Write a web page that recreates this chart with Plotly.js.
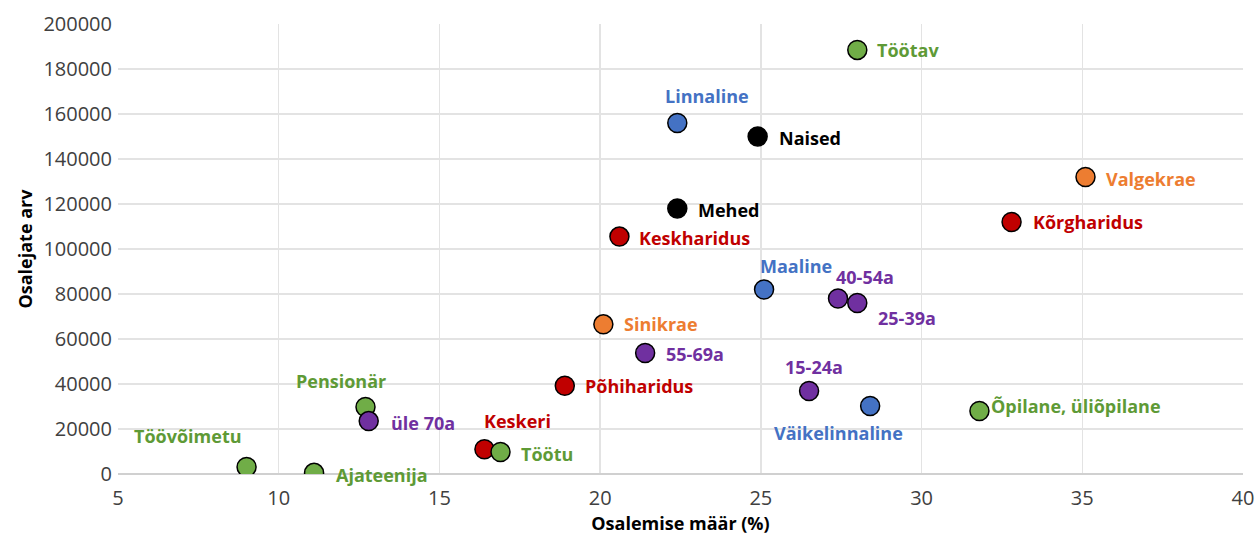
<!DOCTYPE html>
<html>
<head>
<meta charset="utf-8">
<script src="https://cdn.plot.ly/plotly-3.0.1.min.js"></script>
<style>html,body{margin:0;padding:0;background:#fff;}#chart{width:1257px;height:536px;}</style>
</head>
<body>
<div id="chart"></div>
<script>
// Data
var labels = ["Töötav","Linnaline","Naised","Valgekrae","Mehed","Kõrgharidus","Keskharidus","Maaline","40-54a","25-39a","Sinikrae","55-69a","Põhiharidus","15-24a","Väikelinnaline","Õpilane, üliõpilane","Pensionär","üle 70a","Keskeri","Töötu","Töövõimetu","Ajateenija"];
var rate = [28.0, 22.4, 24.9, 35.1, 22.4, 32.8, 20.6, 25.1, 27.4, 28.0, 20.1, 21.4, 18.9, 26.5, 28.4, 31.8, 12.7, 12.8, 16.4, 16.9, 9.0, 11.1];
var count = [188500, 156000, 150000, 132000, 118000, 112000, 105500, 82000, 78000, 76000, 66500, 53800, 39200, 36900, 30200, 28000, 29800, 23500, 11000, 9800, 3100, 500];
var group = ["tegevus","elukoht","sugu","amet","sugu","haridus","haridus","elukoht","vanus","vanus","amet","vanus","haridus","vanus","elukoht","tegevus","tegevus","vanus","haridus","tegevus","tegevus","tegevus"];
var xTicks = [5, 10, 15, 20, 25, 30, 35, 40];
var yTicks = [0, 20000, 40000, 60000, 80000, 100000, 120000, 140000, 160000, 180000, 200000];

// Styles
var markerColors = {tegevus:"#70AD47", elukoht:"#4472C4", sugu:"#000000", amet:"#ED7D31", haridus:"#C00000", vanus:"#7030A0"};
var textColors = {tegevus:"#5E9A36", elukoht:"#4472C4", sugu:"#000000", amet:"#ED7D31", haridus:"#C00000", vanus:"#7030A0"};
// label placement: [xanchor, xshift, yshift]
var labelPos = [
  ["left",18,0],["center",30,27],["left",19,-1],["left",18,-2],["left",19,-1],["left",19,0],["left",18,-1],
  ["center",32,24],["center",27,22],["center",50,-15],["left",19,0],["left",19,-1],["left",18,0],
  ["center",5,24],["center",-32,-27],["left",10,5],["center",-25,26],["left",20,-2],["center",33,28],
  ["left",18,-2],["center",-59,31],["left",20,-2]
];

var font = "'Open Sans', Lato, sans-serif";

var trace = {
  type: "scatter",
  mode: "markers",
  x: rate,
  y: count,
  text: labels,
  hoverinfo: "text",
  marker: {
    size: 19,
    color: group.map(function(g){return markerColors[g];}),
    line: {color: "#000000", width: 1.5}
  }
};

var annotations = labels.map(function(t, i){
  return {
    x: rate[i], y: count[i], xref: "x", yref: "y",
    text: "<b>" + t + "</b>", showarrow: false,
    xanchor: labelPos[i][0], yanchor: "middle",
    xshift: labelPos[i][1], yshift: labelPos[i][2],
    font: {family: font, size: 18, color: textColors[group[i]]}
  };
});

var layout = {
  width: 1257, height: 536,
  margin: {l: 118, r: 14, t: 24, b: 62},
  paper_bgcolor: "#ffffff", plot_bgcolor: "#ffffff",
  showlegend: false,
  font: {family: font, color: "#404040"},
  xaxis: {
    range: [5, 40], tickvals: xTicks, ticktext: xTicks.map(String),
    showgrid: true, gridcolor: "#E3E3E3", gridwidth: 1.5,
    zeroline: false, showline: false,
    ticks: "", ticklabelstandoff: 10,
    tickfont: {size: 20, color: "#404040", family: font},
    title: {text: "<b>Osalemise määr (%)</b>", font: {size: 18, color: "#000000", family: font}, standoff: 1}
  },
  yaxis: {
    range: [0, 200000], tickvals: yTicks, ticktext: yTicks.map(String),
    showgrid: true, gridcolor: "#E3E3E3", gridwidth: 1.5,
    zeroline: true, zerolinecolor: "#D0D0D0", zerolinewidth: 1.5,
    showline: false, ticks: "", ticklabelstandoff: 5,
    tickfont: {size: 20, color: "#404040", family: font},
    title: {text: "<b>Osalejate arv</b>", font: {size: 18, color: "#000000", family: font}, standoff: 6}
  },
  annotations: annotations
};

Plotly.newPlot("chart", [trace], layout, {displayModeBar: false, staticPlot: true});
</script>
</body>
</html>
